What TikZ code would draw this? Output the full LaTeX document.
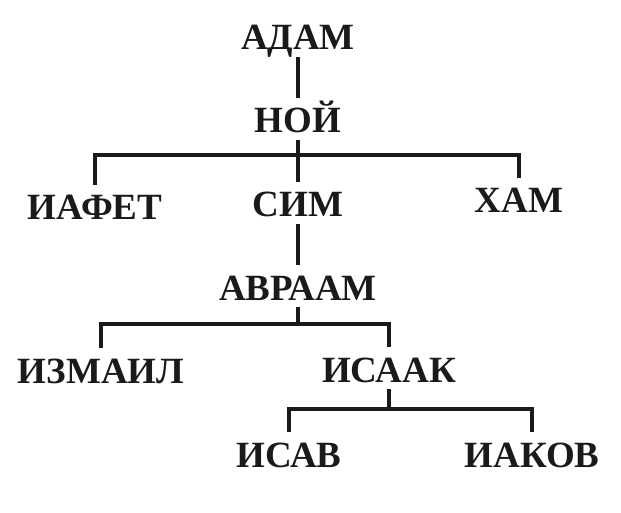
\documentclass[tikz,border=0pt]{standalone}
\usepackage{fontspec}
\usepackage{tikz}
\setmainfont{Liberation Serif}
\definecolor{inkdark}{HTML}{1A1A1A}
\newcommand{\persontext}{\fontsize{37}{42}\selectfont\bfseries}

\begin{document}
\begin{tikzpicture}[x=1pt,y=-1pt,font=\persontext,
  person/.style={anchor=base,inner sep=0pt,text height=24pt,text depth=0pt,text=inkdark},
  link/.style={draw=inkdark,line width=4.8pt,shorten <=7pt,shorten >=11pt}]
\useasboundingbox (0,0) rectangle (621,513);
\node[person] (adam) at (298,50) {АДАМ};
\node[person] (noi) at (298,133) {НОЙ};
\node[person] (iafet) at (95,220) {ИАФЕТ};
\node[person] (sim) at (298,217) {СИМ};
\node[person] (kham) at (519,213) {ХАМ};
\node[person] (avraam) at (298,300) {АВРААМ};
\node[person] (izmail) at (101,383) {ИЗМАИЛ};
\node[person] (isaak) at (389,382) {ИСААК};
\node[person] (isav) at (289,467) {ИСАВ};
\node[person] (iakov) at (532,467) {ИАКОВ};
\coordinate (noibar) at (298,155);
\coordinate (avraambar) at (298,324);
\coordinate (isaakbar) at (389,409);
\draw[link] (adam.south) -- (noi.north);
\draw[link] (noi.south) -- (noibar) -| (iafet.north);
\draw[link] (noi.south) -- (sim.north);
\draw[link] (noi.south) -- (noibar) -| (kham.north);
\draw[link] (sim.south) -- (avraam.north);
\draw[link] (avraam.south) -- (avraambar) -| (izmail.north);
\draw[link] (avraam.south) -- (avraambar) -| (isaak.north);
\draw[link] (isaak.south) -- (isaakbar) -| (isav.north);
\draw[link] (isaak.south) -- (isaakbar) -| (iakov.north);
\end{tikzpicture}
\end{document}
